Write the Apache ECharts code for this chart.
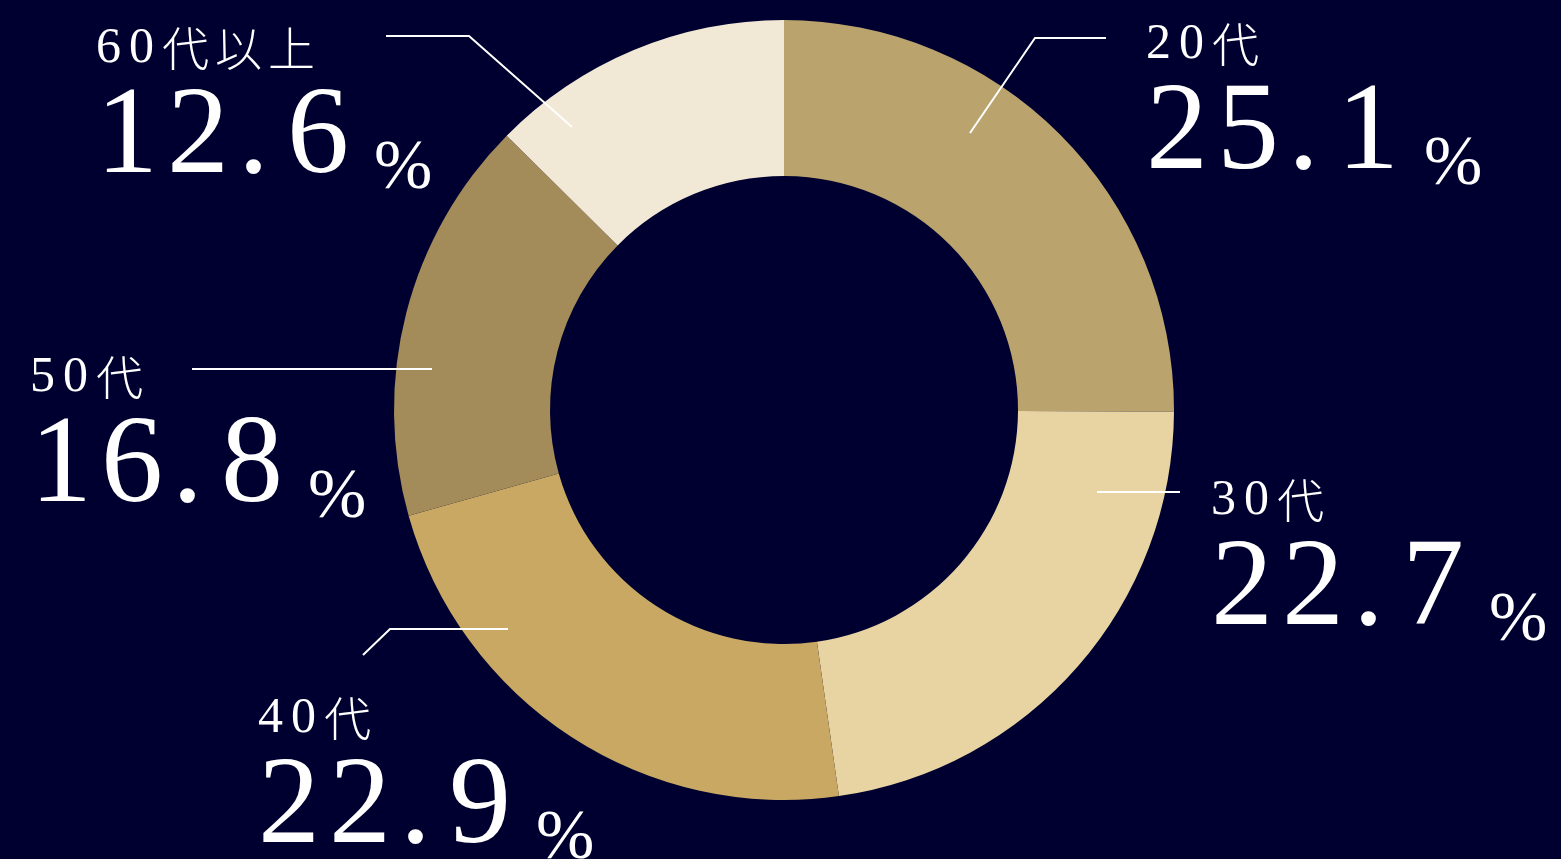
<!DOCTYPE html>
<html><head><meta charset="utf-8">
<style>html,body{margin:0;padding:0;background:#000030;}#c{width:1561px;height:859px;}</style>
<script src="https://cdn.jsdelivr.net/npm/echarts@6/dist/echarts.min.js"></script>
</head><body><div id="c"></div>
<script>
// ---- data ----
const categories = ['20代', '30代', '40代', '50代', '60代以上'];
const shares = [25.1, 22.7, 22.9, 16.8, 12.6];
const sliceColors = ['#BBA36D', '#E8D3A2', '#C8A862', '#A38C5A', '#F2E8D6'];

// ---- annotation layout (label block top-left and leader-line points) ----
const labelPos = [[1146, 19], [1211, 475], [258, 693], [30, 352], [96, 23]];
const leaderLines = [
  [[970, 133], [1035, 38], [1106, 38]],
  [[1097, 492], [1140, 492], [1180, 492]],
  [[508, 629], [390, 629], [363, 655]],
  [[432, 369], [300, 369], [192, 369]],
  [[572, 127], [469, 36], [386, 36]]
];

function nameTokens(s) {
  return s.split('').map(c => /[0-9]/.test(c) ? '{nd|' + c + '}' : '{nk|' + c + '}').join('');
}
function valueTokens(v) {
  return v.toFixed(1).split('').map(c => c === '.' ? '{vp|.}' : '{vd|' + c + '}').join('') + '{pc|%}';
}

const chart = echarts.init(document.getElementById('c'), null, {renderer: 'canvas'});
const serif = 'Liberation Serif';
const common = {
  type: 'pie',
  center: [784, 410],
  radius: [234, 390],
  startAngle: 90,
  clockwise: true,
  avoidLabelOverlap: false,
  silent: true,
  emphasis: {disabled: true}
};
chart.setOption({
  backgroundColor: '#000030',
  animation: false,
  series: [
    Object.assign({}, common, {
      z: 2,
      itemStyle: {borderWidth: 0},
      label: {show: false},
      labelLine: {show: false},
      data: categories.map((n, i) => ({name: n, value: shares[i], itemStyle: {color: sliceColors[i]}}))
    }),
    Object.assign({}, common, {
      z: 5,
      itemStyle: {color: 'rgba(0,0,0,0)', borderWidth: 0},
      data: categories.map((n, i) => ({name: n, value: shares[i]})),
      label: {
        show: true,
        position: 'outside',
        color: '#ffffff',
        formatter: p => nameTokens(p.name) + '\n' + valueTokens(p.value),
        rich: {
          nd: {fontFamily: serif, fontSize: 50, width: 33, lineHeight: 51, color: '#fff'},
          nk: {fontFamily: 'Noto Sans CJK JP', fontWeight: 300, fontSize: 47, width: 53, lineHeight: 51, color: '#fff'},
          vd: {fontFamily: serif, fontSize: 124, width: 71, lineHeight: 131, color: '#fff'},
          vp: {fontFamily: serif, fontSize: 124, width: 49, lineHeight: 131, color: '#fff'},
          pc: {fontFamily: serif, fontSize: 70, lineHeight: 17, verticalAlign: 'bottom', padding: [0, 0, 0, 16], color: '#fff'}
        }
      },
      labelLine: {show: true, smooth: false, lineStyle: {color: '#ffffff', width: 2}},
      labelLayout: function (params) {
        const i = params.dataIndex;
        return {
          x: labelPos[i][0],
          y: labelPos[i][1],
          align: 'left',
          verticalAlign: 'top',
          labelLinePoints: leaderLines[i]
        };
      }
    })
  ]
});
</script>
</body></html>
